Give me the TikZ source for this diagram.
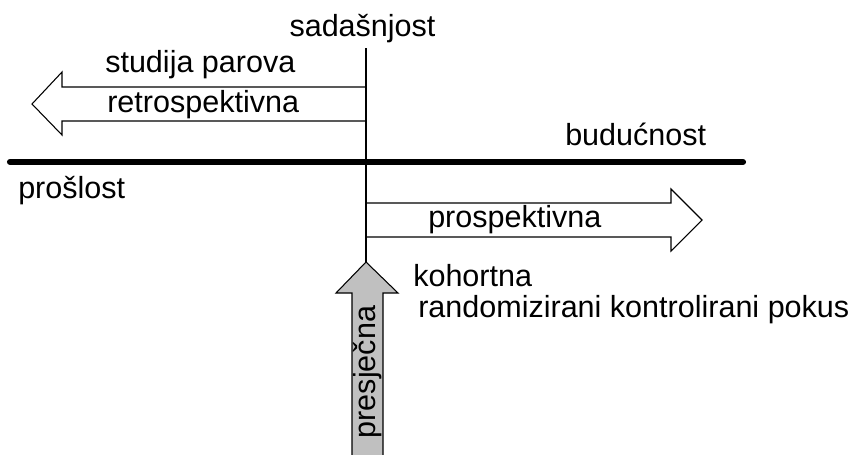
\documentclass[tikz,border=0pt]{standalone}
\usepackage{fontspec}
\setmainfont{Liberation Sans}
\definecolor{shaftgray}{RGB}{192,192,192}
\begin{document}
\begin{tikzpicture}[x=0.75pt,y=-0.75pt,
  lbl/.style={inner sep=0pt,font=\fontsize{22.9}{27}\selectfont},
  thin/.style={draw=black,line width=0.8pt,line join=miter},
  axis/.style={draw=black,line width=4.6pt,line cap=round}]
\useasboundingbox (0,0) rectangle (857,454);
\begin{scope}
\clip (0,0) rectangle (857,454);
% present vertical line
\coordinate (vtop) at (366,48);
\coordinate (vbot) at (366,262);
% retrospective arrow
\draw[thin] (366,87) -- (62,87) -- (62,72) -- (32,104) -- (62,135) -- (62,121) -- (366,121);
% prospective arrow
\draw[thin] (366,203) -- (671,203) -- (671,189) -- (702,220) -- (671,251) -- (671,237) -- (366,237);
% cross-sectional gray arrow
\draw[thin,fill=shaftgray] (352,460) -- (352,293) -- (336,293) -- (366,262) -- (398,293) -- (383,293) -- (383,460);
\node[lbl,rotate=90,anchor=center] (pres) at (367.5,372) {presječna};
% time axis
\coordinate (past) at (10,162);
\coordinate (future) at (743,162);
\draw[axis] (past) -- (future);
\draw[thin] (vtop) -- (vbot);
\end{scope}
% labels
\node[lbl,anchor=base] (now) at (362.5,36) {sadašnjost};
\node[lbl,anchor=base west] (pairs) at (105,72) {studija parova};
\node[lbl,anchor=base west] (retro) at (107,112) {retrospektivna};
\node[lbl,anchor=base west] (fut) at (565,145) {budućnost};
\node[lbl,anchor=base west] (pst) at (18,198) {prošlost};
\node[lbl,anchor=base west] (prosp) at (428,227) {prospektivna};
\node[lbl,anchor=base west] (coh) at (413,286) {kohortna};
\node[lbl,anchor=base west] (rct) at (418,317) {randomizirani kontrolirani pokus};
\end{tikzpicture}
\end{document}
